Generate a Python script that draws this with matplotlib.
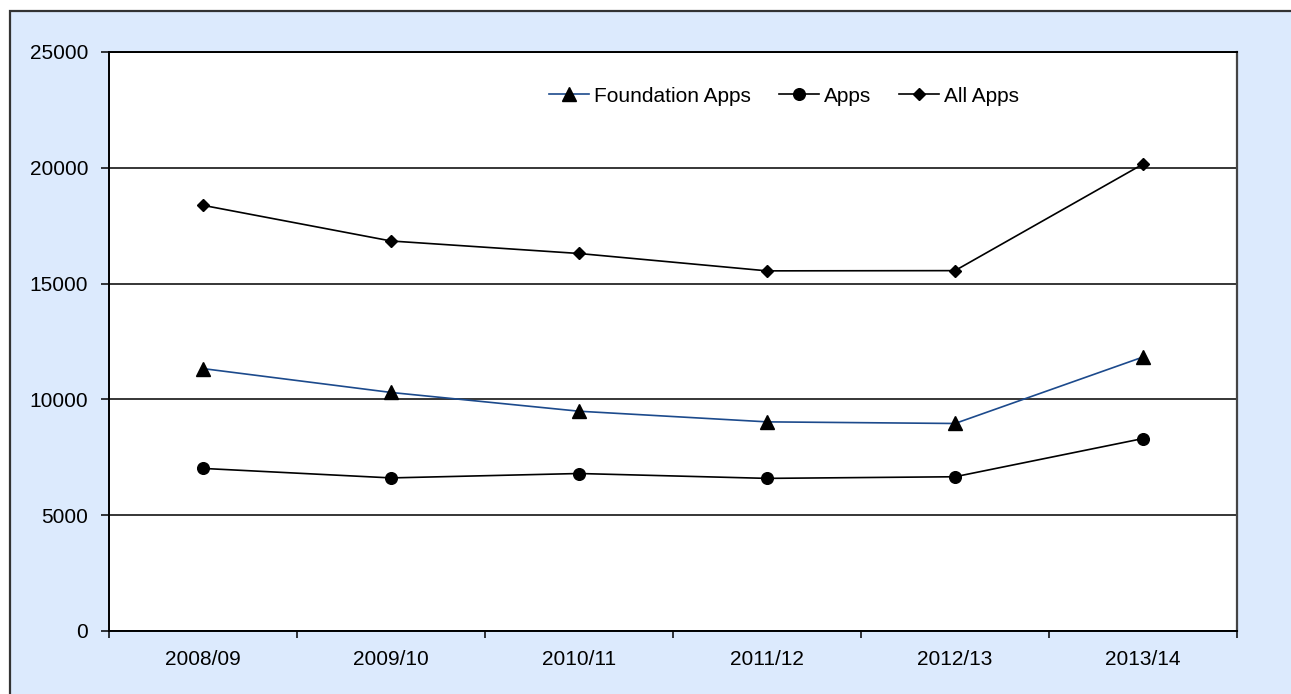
import matplotlib
matplotlib.use("Agg")
import matplotlib.pyplot as plt
from matplotlib.patches import Rectangle

plt.rcParams['font.family'] = ['Liberation Sans', 'DejaVu Sans']

years = ["2008/09", "2009/10", "2010/11", "2011/12", "2012/13", "2013/14"]
foundation_apps = [11330, 10300, 9490, 9030, 8960, 11830]
apps = [7020, 6610, 6800, 6590, 6660, 8310]
all_apps = [18380, 16840, 16300, 15550, 15560, 20160]
y_ticks = [0, 5000, 10000, 15000, 20000, 25000]

W, H = 1291, 694
fig = plt.figure(figsize=(W / 100, H / 100), dpi=100, facecolor="white")

# light blue chart area with dark frame, kept behind the axes
fig.patches.append(Rectangle((10 / W, -0.05), 1.2, 1 - 11 / H + 0.05,
                             transform=fig.transFigure, facecolor="#DCEAFD",
                             edgecolor="#333333", linewidth=1.6, zorder=-5))

ax = fig.add_axes([109 / W, 1 - 631 / H, (1237 - 109) / W, (631 - 52) / H])
ax.set_zorder(2)
ax.set_facecolor("white")

x = list(range(len(years)))
ax.plot(x, foundation_apps, color="#1C4A8C", linewidth=1.2, marker="^",
        markersize=10, markerfacecolor="black", markeredgecolor="black",
        label="Foundation Apps", zorder=3)
ax.plot(x, apps, color="black", linewidth=1.2, marker="o", markersize=8.4,
        markerfacecolor="black", markeredgecolor="black", label="Apps", zorder=3)
ax.plot(x, all_apps, color="black", linewidth=1.2, marker="D", markersize=6,
        markerfacecolor="black", markeredgecolor="black", label="All Apps", zorder=3)

ax.set_ylim(0, 25000)
ax.set_yticks(y_ticks)
ax.set_yticklabels([str(v) for v in y_ticks])
ax.yaxis.grid(True, color="black", linewidth=1.1)
ax.set_axisbelow(True)

ax.set_xlim(-0.5, len(years) - 0.5)
ax.set_xticks([i - 0.5 for i in range(len(years) + 1)])
ax.set_xticklabels([])
ax.set_xticks(x, minor=True)
ax.set_xticklabels(years, minor=True)
ax.tick_params(axis="x", which="major", direction="out", length=5, width=1.1, color="black")
ax.tick_params(axis="x", which="minor", length=0, pad=14, labelsize=15)
ax.tick_params(axis="y", direction="out", length=6, width=1.1, pad=9, labelsize=15)

for side in ["left", "bottom", "top"]:
    ax.spines[side].set_color("black")
    ax.spines[side].set_linewidth(1.4)
ax.spines["right"].set_color("#444444")
ax.spines["right"].set_linewidth(1.6)

leg = ax.legend(loc="center", bbox_to_anchor=(784 / W, 1 - 96 / H),
                bbox_transform=fig.transFigure, ncol=3, frameon=False,
                fontsize=15, handlelength=1.9, handletextpad=0.25,
                columnspacing=1.35, borderpad=0)

fig.savefig("out.png", dpi=100, facecolor=fig.get_facecolor())
